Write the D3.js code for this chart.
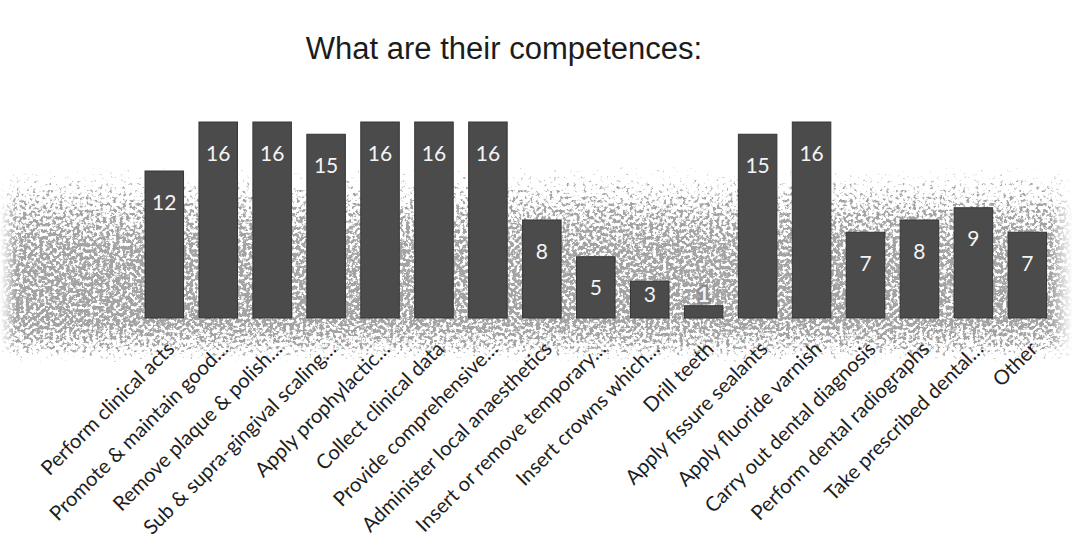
<!DOCTYPE html>
<html>
<head>
<meta charset="utf-8">
<script src="https://cdn.jsdelivr.net/npm/d3@7"></script>
<style>
  html, body { margin: 0; padding: 0; background: #fff; }
  svg { display: block; }
</style>
</head>
<body>
<svg id="chart" width="1078" height="547"></svg>
<script>
const title = "What are their competences:";
const categories = [
  "Perform clinical acts",
  "Promote & maintain good…",
  "Remove plaque & polish…",
  "Sub & supra-gingival scaling…",
  "Apply prophylactic…",
  "Collect clinical data",
  "Provide comprehensive…",
  "Administer local anaesthetics",
  "Insert or remove temporary…",
  "Insert crowns which…",
  "Drill teeth",
  "Apply fissure sealants",
  "Apply fluoride varnish",
  "Carry out dental diagnosis",
  "Perform dental radiographs",
  "Take prescribed dental…",
  "Other"
];
const values = [12, 16, 16, 15, 16, 16, 16, 8, 5, 3, 1, 15, 16, 7, 8, 9, 7];
const yDomain = [0, 16];

const W = 1078, H = 547;
const svg = d3.select("#chart");
const defs = svg.append("defs");

// scanned-paper speckle band (decorative background)
const grad = defs.append("linearGradient").attr("id", "bandGrad")
  .attr("x1", 0).attr("y1", 0).attr("x2", 0).attr("y2", 1);
[[0, 0], [0.12, 0.5], [0.3, 0.8], [0.45, 0.95], [0.75, 0.98], [0.86, 0.75], [1, 0.2]].forEach(([o, a]) =>
  grad.append("stop").attr("offset", o).attr("stop-color", "#fff").attr("stop-opacity", a));
const hgrad = defs.append("linearGradient").attr("id", "bandH")
  .attr("x1", 0).attr("y1", 0).attr("x2", 1).attr("y2", 0);
[[0, 0], [0.015, 1], [0.975, 1], [0.995, 0]].forEach(([o, a]) =>
  hgrad.append("stop").attr("offset", o).attr("stop-color", "#fff").attr("stop-opacity", a));
const mask = defs.append("mask").attr("id", "bandMask");
mask.append("rect").attr("x", 0).attr("y", 0).attr("width", W).attr("height", H).attr("fill", "url(#bandH)");

const f = defs.append("filter").attr("id", "speckle")
  .attr("x", 0).attr("y", 0).attr("width", 1).attr("height", 1);
f.append("feTurbulence").attr("type", "fractalNoise").attr("baseFrequency", 0.3)
  .attr("numOctaves", 3).attr("seed", 11).attr("result", "n");
f.append("feColorMatrix").attr("in", "n").attr("type", "matrix")
  .attr("values", "0 0 0 0 0  0 0 0 0 0  0 0 0 0 0  1 0 0 0 0").attr("result", "na");
f.append("feComposite").attr("in", "na").attr("in2", "SourceGraphic").attr("operator", "arithmetic")
  .attr("k1", 2).attr("k2", 0).attr("k3", 0).attr("k4", 0).attr("result", "m");
const ct = f.append("feComponentTransfer").attr("in", "m").attr("result", "t");
ct.append("feFuncA").attr("type", "linear").attr("slope", 4).attr("intercept", -3);
f.append("feFlood").attr("flood-color", "#a3a3a3").attr("result", "fl");
f.append("feComposite").attr("in", "fl").attr("in2", "t").attr("operator", "in");

svg.append("g").attr("mask", "url(#bandMask)")
  .append("rect").attr("x", 0).attr("y", 140).attr("width", W).attr("height", 240)
  .attr("fill", "url(#bandGrad)").attr("filter", "url(#speckle)");

// title
svg.append("text")
  .attr("x", 504).attr("y", 59)
  .attr("text-anchor", "middle")
  .attr("font-family", "'Liberation Sans', Arial, sans-serif")
  .attr("font-size", 31)
  .attr("fill", "#1c1c1c")
  .text(title);

const x = d3.scaleBand().domain(categories).range([137.3, 1054.3])
  .paddingInner(0.286).paddingOuter(0.143);
const y = d3.scaleLinear().domain(yDomain).range([318, 122]);

const data = categories.map((c, i) => ({ c, v: values[i] }));

svg.append("g").selectAll("rect").data(data).join("rect")
  .attr("x", d => x(d.c))
  .attr("y", d => y(d.v))
  .attr("width", x.bandwidth())
  .attr("height", d => y(0) - y(d.v))
  .attr("fill", "#4b4b4b")
  .attr("stroke", "#363636")
  .attr("stroke-width", 1);

const labelY = d => Math.min(y(d.v) + 30, y(0) - 25);
const outside = d => labelY(d) + 8 < y(d.v);
svg.append("g").selectAll("text").data(data).join("text")
  .attr("x", d => x(d.c) + x.bandwidth() / 2)
  .attr("y", labelY)
  .attr("dominant-baseline", "central")
  .attr("text-anchor", "middle")
  .attr("font-family", "Lato, 'Open Sans', sans-serif")
  .attr("font-size", 21)
  .attr("font-weight", d => outside(d) ? 700 : 400)
  .attr("fill", "#f4f4f4")
  .attr("stroke", d => outside(d) ? "#8e8e8e" : "none")
  .attr("stroke-width", 5)
  .attr("stroke-linejoin", "round")
  .attr("paint-order", "stroke")
  .text(d => d.v);

// category axis (rotated labels)
const xAxis = d3.axisBottom(x).tickSize(0).tickPadding(0);
const gx = svg.append("g").attr("transform", `translate(0,${y(0)})`).call(xAxis);
gx.select(".domain").remove();
gx.selectAll(".tick text")
  .attr("font-family", "Lato, 'Open Sans', sans-serif")
  .attr("font-size", 20.3)
  .attr("fill", "#1e1e1e")
  .attr("text-anchor", "end")
  .attr("y", 0).attr("dy", "0.72em")
  .attr("transform", "translate(1,22) rotate(-45)");
</script>
</body>
</html>
